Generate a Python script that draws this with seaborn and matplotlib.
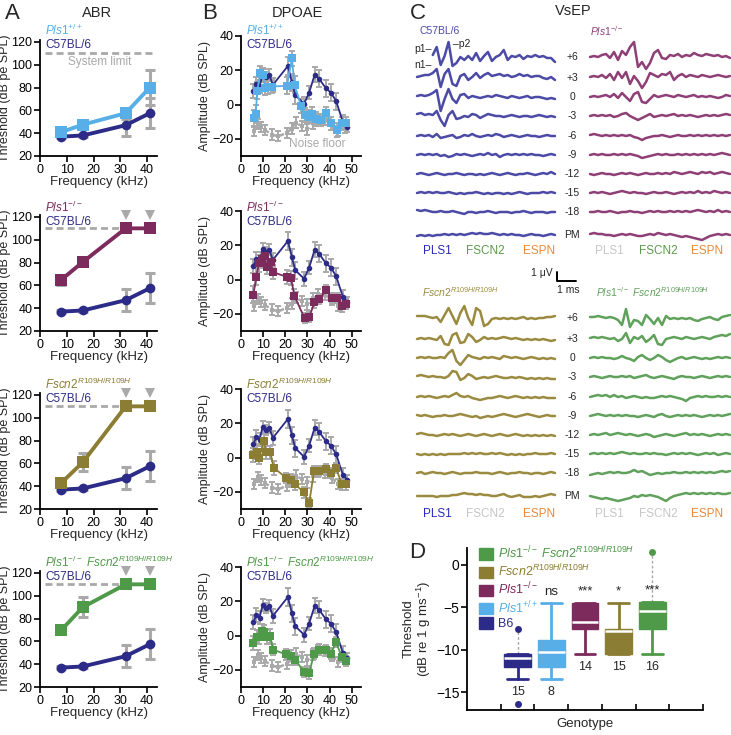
import numpy as np
import matplotlib
matplotlib.use("Agg")
import matplotlib.pyplot as plt
from matplotlib.patches import Patch
import seaborn as sns

# ---------------- data ----------------
ABR_FREQ = [8, 16, 32, 41]
ABR_B6 = [37, 38, 47, 57.5]
ABR_B6_ERR = [1.5, 1.5, 9.5, 13]
ABR_PLS1_WT = [41, 47.5, 57.5, 80]
ABR_PLS1_WT_ERR = [3, 2, 5, 15]
ABR_PLS1_KO = [65, 80.5, 110, 110]
ABR_PLS1_KO_ERR = [4.5, 3, 0, 0]
ABR_FSCN2 = [43, 61, 110, 110]
ABR_FSCN2_ERR = [3, 8, 0, 0]
ABR_DKO = [70, 90, 110, 110]
ABR_DKO_ERR = [3, 8.5, 0, 0]
SYSTEM_LIMIT = 110
SYSTEM_LIMIT_SPAN = [2, 42]

DP_B6_F = [5.6, 7.0, 8.4, 9.8, 11.3, 12.7, 14.4, 21.2, 23.0, 24.5, 28.5, 30.8, 33.3, 35.3, 38.4, 40.6, 43.0, 46.0, 48.0]
DP_B6_A = [8, 12, 10.5, 18, 16, 17.5, 11.5, 22.5, 13, 5.5, 0.5, 7, 17.5, 15, 9.5, 7, 2, -10, -13]
DP_B6_ERR = [4, 4, 4, 3.5, 3, 3, 4, 5.5, 5, 5, 4, 4, 4.5, 5, 5, 5, 5, 4, 3]

DP_WT_F = [5.8, 6.6, 7.4, 8.6, 9.8, 11.0, 12.4, 14.0, 20.8, 23.0, 24.2, 27.2, 28.9, 30.8, 32.2, 33.8, 36.0, 38.4, 40.8, 43.2, 45.5, 47.4]
DP_WT_A = [-8, -5.5, 8, 18.5, 17, 9.5, 10, 10.5, 11, 27, 11.5, -1, -6, -7, -5.5, -8.5, -9, -5, -11, -15, -11, -11]
DP_WT_ERR = [5, 5, 5, 4, 4, 4, 4, 4, 5, 4.5, 5, 4, 4, 4, 4, 4, 3.5, 3.5, 4, 4, 4, 4]

DP_KO_F = [5.6, 6.9, 8.1, 9.5, 10.7, 11.6, 13.4, 14.5, 20.6, 22.6, 24.1, 28.7, 30.9, 33.2, 35.4, 38.4, 40.9, 43.3, 45.7, 47.6]
DP_KO_A = [-8.8, 1.6, 9.4, 11.8, 13.7, 7.3, 10.2, 4.3, 1.6, 1, -9.4, -22.5, -21.6, -13.3, -11.4, -6.3, -10.8, -10.8, -15.7, -14.1]
DP_KO_ERR = [5, 5, 5, 4, 4, 4, 4, 4, 4, 4, 4, 3, 3, 3, 3, 3, 3, 3, 3, 3]

DP_FS_F = [5.6, 7.3, 8.3, 10.3, 11.4, 13.3, 14.7, 20.5, 22.7, 24.5, 28.5, 30.8, 33.0, 35.3, 38.2, 40.6, 43.0, 45.5, 47.3]
DP_FS_A = [1.4, 3.3, 0, 9.8, 3, 3, -5.9, -11.8, -12.8, -15.7, -20.3, -26.6, -7.9, -7.9, -6.9, -8.9, -5.9, -15.7, -15.7]
DP_FS_ERR = [4, 4, 4, 4, 4, 4, 4, 3, 3, 3, 3, 3, 3, 3, 3, 3, 3, 3, 3]

DP_DKO_F = [5.6, 7.1, 8.3, 9.4, 10.6, 11.8, 13.3, 14.4, 20.5, 22.7, 24.5, 28.5, 30.8, 33.0, 35.2, 38.2, 40.6, 43.0, 45.5, 47.3]
DP_DKO_A = [-4.3, -0.8, -1, 2.5, 2, -0.8, -0.4, -8.2, -11, -11.7, -14, -21.4, -22.1, -10.5, -8.2, -8.5, -10.5, -3.9, -12.4, -14.9]
DP_DKO_ERR = [4, 4, 4, 4, 4, 4, 4, 3, 3, 3, 3, 3, 3, 3, 3, 3, 3, 3, 3, 3]

DP_NF_F = [6.0, 7.5, 9.0, 11.0, 13.9, 16.9, 20.6, 22.9, 24.7, 27.4, 30.0, 32.5, 35.0, 38.0, 41.0, 44.0, 47.0]
DP_NF_A = [-15.5, -11.5, -13, -15, -17.5, -18.5, -16.5, -14, -10.5, -12.5, -14.5, -11, -8.5, -9, -12, -15.5, -13.5]
DP_NF_ERR = [3, 3, 3, 3, 3, 3, 3, 3, 3, 3, 3, 3, 3, 3, 3, 3, 3]

# VsEP traces (display units, ~9 units = 1 uV), rows: +6 ... PM
VSEP_ROWS = ["+6", "+3", "0", "-3", "-6", "-9", "-12", "-15", "-18", "PM"]
nan = np.nan
VSEP_B6 = [
    [nan, nan, nan, nan, 2, 10, -8, 1, 15, -9, -6, 0, -3, 1, -3, 4, -4, 1, 5, -4, 0, 2, 7, -3, 1, 0, 2, -2, 1, 0, 2, 0, 1, -1, -1, -5],
    [1, 2, 3, 3, 5, 9, -9, 4, 9, -6, -8, 2, 4, -2, 1, 5, 0, 3, 5, 2, 3, 4, 2, 3, 1, 2, 4, 2, 3, 1, 2, 2, 0, -1, 1, -2],
    [1, 2, 1, 2, 4, 7, -14, -2, 8, -2, -6, 2, 3, -1, 1, 0, -1, 0, 1, 0, 2, 1, 0, -1, 1, 0, -1, 0, 1, -1, 0, 0, -1, -2, -1, -2],
    [2, 3, 1, 2, 1, 5, -4, -10, 1, 5, -3, -2, 0, -1, 2, 1, -2, 0, 2, 1, 0, 0, -1, 0, 1, 0, -1, 0, 0, -1, 0, 1, 0, -1, 0, -1],
    [0, 1, 0, 1, -1, 2, -2, -1, 0, 1, -2, -1, 1, 0, 2, 0, -1, 0, 1, 0, 2, 1, -1, 0, 1, 0, -1, 0, 1, 0, 0, -1, 0, 1, 0, 0],
    [0, 1, 0, 1, 0, 1, -1, 0, -2, -1, 1, 0, 1, 0, -1, 0, 1, 0, 2, 0, 1, -2, 0, 1, 0, 1, 0, 1, 0, 1, 0, 0, -1, 0, 1, 0],
    [0, 1, 0, -1, 0, 1, 0, -1, 0, 0, 1, 0, -1, 0, 0, -1, 0, -1, 0, 1, 0, -1, 0, 1, 0, -1, 0, 0, 1, 0, -1, 0, 1, 0, 2, 0],
    [0, 1, 0, 1, 0, 1, 0, 0, 1, 0, -1, 0, -1, 0, 0, 1, 0, -1, 0, -1, 0, 0, -1, 0, -1, 0, 1, 0, -1, 0, 0, 0, 1, 0, 1, 0],
    [2, 1, 2, 1, 0, 0, 1, 0, 0, 1, 0, -1, -2, 0, 0, -1, 0, 0, 1, 0, -1, 0, 0, 0, -1, 0, 0, 1, 0, -1, 0, 0, 0, -1, 0, 0],
    [-1, 0, -1, 0, -1, 0, 0, 1, 0, 1, 0, 1, 0, 1, 2, 1, 2, 1, 1, 2, 1, 0, 1, 0, 1, 0, 0, -1, 0, 1, 0, 0, -1, 0, 1, 0],
]
VSEP_KO = [
    [0, 1, 0, 2, 3, -1, 5, -3, 6, 2, 10, 15, -10, -5, -12, -6, 4, 7, -1, -2, 2, 1, 3, 0, 2, 1, 4, 2, 1, 3, 2, 1, 2, 0, 1, -1],
    [1, 2, 1, 3, 0, 4, -2, 6, 0, 6, -6, 2, -3, -10, -4, 5, 3, 1, 4, 3, 6, -2, 2, 4, 1, 3, 2, 1, 3, 2, 1, 2, 3, 2, 1, 2],
    [0, 1, 0, 1, 2, 0, 3, -1, 4, 0, -4, 3, 5, -5, -6, -2, 2, 0, 1, 2, 1, 0, 2, 1, 0, 1, 2, 0, 1, 0, 1, 0, -1, 0, 2, 1],
    [0, 1, 0, 1, 0, 1, -1, 0, 2, 3, 0, -2, -4, -2, 0, 2, -1, 0, 1, 0, 1, 2, 0, 1, 0, 1, 0, -1, 0, 1, 0, 1, 0, 1, 2, 1],
    [1, 2, 1, 0, 1, 0, 1, 0, 1, 0, 1, -1, -2, -4, -2, -1, 0, 0, 1, 0, -1, 0, 1, 0, 0, 1, 0, 1, 0, 1, 0, 1, 0, 1, 0, 1],
    [0, 1, 0, 1, 0, 0, 1, 0, 1, 0, 1, 0, -1, -3, -2, -1, 0, 1, 0, 1, 0, 0, 1, 0, 1, 0, 1, 0, 1, 0, 1, 0, 1, 2, 1, 0],
    [0, -1, 0, 1, 0, 0, -1, 0, 1, 0, 1, 0, -1, 0, 1, 0, 0, 1, 0, 1, 0, 2, 1, 0, 1, 2, 1, 0, 2, 1, 2, 0, 1, 2, 1, 0],
    [0, 1, 0, 1, 0, -1, 0, 1, 2, 1, 0, 1, 0, 0, -1, 0, 1, 0, 0, 1, 0, -1, 0, 1, 0, 1, 0, 2, 0, 1, 0, 2, 1, 0, 1, 0],
    [0, 0, 1, 0, 0, 1, 0, -1, 0, 0, 1, 0, 0, -1, 0, 1, 0, 1, 0, 0, 1, 0, 1, 0, 1, 0, 1, 2, 1, 0, 1, 0, 2, 0, 1, 0],
    [1, 2, 1, 1, 0, 0, -1, 0, 1, 0, 1, 0, -1, -1, 0, 1, 0, 2, 1, 0, 1, 0, -1, -2, -1, -2, -3, -4, -5, -3, -1, 0, 1, 0, 1, 0],
]
VSEP_FS = [
    [2, 2, 2, 1, 0, 1, -4, 3, 10, 2, -6, 5, 12, 0, -7, 10, 7, -8, -6, -1, 0, -1, 0, -1, 0, -1, 0, 1, -1, 0, -1, 0, 0, 1, 1, 2],
    [0, 1, 0, 1, 0, -1, 3, -5, -6, 4, 6, -4, -3, 5, 2, -3, -1, 2, 0, 1, 0, 1, 2, 1, 0, 1, 0, -1, 0, -1, 0, -1, 0, -1, -2, -1],
    [0, 1, 0, 1, 0, 0, 1, 0, 5, 8, -3, -7, -2, 3, 1, 0, -1, 1, 0, 1, 0, -1, 2, 1, 0, 1, 0, -1, 0, 1, 0, -1, 0, -1, 0, -1],
    [1, 2, 1, 0, 1, 0, 0, -1, 1, 6, 5, -3, -1, 3, 1, -2, -1, 0, -1, 0, 1, 0, -1, -1, 0, -1, 0, -1, -2, -1, -2, -1, -2, -1, -2, -2],
    [0, 1, 0, 1, 0, -1, 0, 1, 0, 2, 4, 1, 0, 1, -1, -2, -3, -2, -1, -1, 0, 1, 0, -1, 0, 1, 0, -1, 0, -1, 0, -1, 0, -1, -1, -1],
    [1, 0, 1, 0, -1, 0, 0, 1, 0, 0, 1, 2, 1, 0, -1, 0, -2, -1, 0, -1, 0, 1, 2, 1, 0, -1, 0, 1, 2, 1, 0, -1, 0, 1, 0, 0],
    [1, 2, 1, 0, 0, -1, 0, 1, 0, 1, 0, -1, 0, 1, 0, -1, 0, 1, 0, -1, 0, 1, 0, -1, 0, 1, 0, -1, 0, -1, 0, -1, 0, -1, 0, -1],
    [0, -1, 0, -1, 0, -1, 0, -1, 0, 0, 0, 0, 1, 0, 1, 0, 1, 0, 0, 1, 0, 1, 0, -1, 0, -1, 0, -1, 0, 0, 1, 0, 0, 0, 1, 0],
    [0, 1, -1, 0, 1, 0, 0, -1, 0, 1, 0, -1, 0, 0, 0, 1, 0, 0, 0, -1, 0, 1, 0, -1, 0, 0, 1, 0, 0, -1, 0, 0, -1, 0, 1, 0],
    [0, 0, 0, 0, 0, -1, 0, 0, 0, 1, 1, 2, 3, 2, 2, 1, 2, 1, 1, 0, 0, 1, 2, 0, -1, 0, 1, -1, -1, -1, 0, -1, 0, 1, 2, 1],
]
VSEP_DKO = [
    [1, 1, 2, 1, 0, 1, 0, -2, -7, 9, -9, -2, -3, -7, 3, -1, -6, 0, -7, 2, -1, 0, -1, 0, -1, 0, -2, -3, -1, 0, 1, -1, -2, 1, 2, 3],
    [1, 2, 1, 2, 1, 0, 1, -2, 0, 6, -4, 2, 0, 3, -3, 0, 4, -5, -6, 0, 1, 2, 1, 0, 2, 1, 0, 1, 2, 1, 0, 2, 3, 4, 3, 5],
    [0, 1, 0, 1, 0, 0, -1, 0, 2, 0, -1, -3, 1, 3, 0, -2, 0, 3, 1, -2, -4, -2, 0, 1, -1, 0, 1, 0, -1, 0, -1, 0, 1, 0, 1, 0],
    [0, 1, 0, -1, 0, 1, 0, 0, 1, 0, 1, -1, 0, 1, 2, 0, -1, 0, 1, 0, -1, -2, 0, 1, 0, 0, -1, 0, 1, 0, -1, 0, 1, 0, 1, 0],
    [0, 1, 2, 1, 2, 0, 2, 0, 1, -1, 0, 1, 0, -1, 0, -1, -1, 0, 1, 0, 1, 0, -1, -2, -4, -1, 0, 1, 0, 1, 0, 0, 1, 0, 1, 0],
    [0, 1, 2, 1, 0, 1, 0, 1, 0, 1, 0, 0, -1, 0, 1, 0, -1, 1, 2, 0, -1, 0, 1, 0, 1, 0, 1, 0, -1, 0, 1, 0, 1, 0, 1, 2],
    [0, 1, 0, 1, 2, 0, 1, 2, 1, 0, 1, 0, -1, 0, 1, 0, -2, -1, 0, 1, 0, -1, 0, 1, 2, 0, 1, 0, 1, 0, -1, 0, 1, 0, 1, 0],
    [0, 1, 0, 1, 0, 1, 0, 1, 2, 1, 0, 1, 0, 0, 1, 0, 1, 0, 0, -1, 0, 1, 0, 1, 0, 1, 0, -1, 0, 1, 0, 1, -1, 0, 1, 0],
    [-2, -1, 0, -1, 0, 1, 0, 1, 0, 0, 1, 3, 1, 2, 0, -2, -1, 0, -1, 0, 0, 1, 0, 0, 1, 0, 1, 0, 1, 0, 1, 0, 1, 2, 1, 2],
    [0, -1, -2, -3, -2, -3, -4, -5, -4, -3, -2, 0, -1, 1, 0, 1, 0, -1, -3, -5, -2, 0, 1, 2, 3, 2, 3, 2, 3, 2, 3, 2, 3, 2, 2, 3],
]
VSEP_PROTEINS = ["PLS1", "FSCN2", "ESPN"]
VSEP_PRESENT_B6 = [True, True, True]
VSEP_PRESENT_KO = [False, True, True]
VSEP_PRESENT_FS = [True, False, True]
VSEP_PRESENT_DKO = [False, False, True]

BOX_GENOTYPES = ["B6", "Pls1+/+", "Pls1-/-", "Fscn2", "DKO"]
BOX_WHISLO = [-13.5, -13.5, -10.5, -10.5, -10.5]
BOX_Q1 = [-12.0, -12.0, -7.6, -10.5, -7.6]
BOX_MED = [-11.0, -10.3, -6.75, -7.75, -5.45]
BOX_Q3 = [-10.5, -8.85, -4.45, -7.5, -4.35]
BOX_WHISHI = [-10.5, -4.45, -4.45, -4.45, -4.35]
BOX_FLIERS = [[-7.5, -16.4], [], [], [], [1.5]]
BOX_N = [15, 8, 14, 15, 16]
BOX_SIG = ["", "ns", "***", "*", "***"]

# ---------------- style ----------------
sns.set_theme(style="ticks")
plt.rcParams["font.family"] = ["Liberation Sans", "DejaVu Sans"]
plt.rcParams["mathtext.fontset"] = "custom"
plt.rcParams["mathtext.rm"] = "Liberation Sans"
plt.rcParams["mathtext.it"] = "Liberation Sans:italic"
plt.rcParams["mathtext.default"] = "regular"

C_B6 = "#2c2b88"
C_WT = "#58aee6"
C_KO = "#7c2b5c"
C_FS = "#8b7d33"
C_DKO = "#4f9a48"
GRAY = "#a9a9a9"
TR_B6 = "#4b4aa6"
TR_KO = "#8e3f76"
TR_FS = "#9a8b40"
TR_DKO = "#60a15b"
PROT_COLORS = ["#2a2ab8", "#5b9b4b", "#e8893a"]
ABSENT = "#c6c6c6"

LBL_WT = r"$\mathit{Pls1}^{+/+}$"
LBL_KO = r"$\mathit{Pls1}^{-/-}$"
LBL_FS = r"$\mathit{Fscn2}^{\mathit{R109H/R109H}}$"
LBL_DKO = r"$\mathit{Pls1}^{-/-}\ \mathit{Fscn2}^{\mathit{R109H/R109H}}$"

W, H = 731, 735
fig = plt.figure(figsize=(W / 100, H / 100), dpi=100)


def rect(left, top, width, height):
    return [left / W, 1 - (top + height) / H, width / W, height / H]


def style_axes(ax, fs=9):
    for s in ["top", "right"]:
        ax.spines[s].set_visible(False)
    for s in ["left", "bottom"]:
        ax.spines[s].set_linewidth(1.3)
        ax.spines[s].set_color("black")
    ax.tick_params(direction="out", length=4, width=1.2, labelsize=fs,
                   colors="black", pad=1.5)


ROW_BOTTOM = [156, 331, 509, 687]
ABR_SERIES = [(ABR_PLS1_WT, ABR_PLS1_WT_ERR, C_WT, LBL_WT),
              (ABR_PLS1_KO, ABR_PLS1_KO_ERR, C_KO, LBL_KO),
              (ABR_FSCN2, ABR_FSCN2_ERR, C_FS, LBL_FS),
              (ABR_DKO, ABR_DKO_ERR, C_DKO, LBL_DKO)]
DP_SERIES = [(DP_WT_F, DP_WT_A, DP_WT_ERR, C_WT),
             (DP_KO_F, DP_KO_A, DP_KO_ERR, C_KO),
             (DP_FS_F, DP_FS_A, DP_FS_ERR, C_FS),
             (DP_DKO_F, DP_DKO_A, DP_DKO_ERR, C_DKO)]


def errbars(ax, x, y, e, lw, cap):
    x, y, e = np.asarray(x, float), np.asarray(y, float), np.asarray(e, float)
    m = e > 0
    ax.errorbar(x[m], y[m], yerr=e[m], fmt="none", ecolor=GRAY, elinewidth=lw,
                capsize=cap, capthick=lw, zorder=2)


# ---------------- A: ABR ----------------
for r, (vals, errs, col, lbl) in enumerate(ABR_SERIES):
    ax = fig.add_axes(rect(40, ROW_BOTTOM[r] - 116, 117, 116))
    ax.plot(SYSTEM_LIMIT_SPAN, [SYSTEM_LIMIT, SYSTEM_LIMIT], color=GRAY, lw=2,
            ls=(0, (2.5, 1.5)), zorder=1)
    errbars(ax, ABR_FREQ, ABR_B6, ABR_B6_ERR, 2.2, 3.5)
    errbars(ax, ABR_FREQ, vals, errs, 2.2, 3.5)
    sns.lineplot(x=ABR_FREQ, y=ABR_B6, ax=ax, color=C_B6, marker="o", markersize=7,
                 markeredgewidth=0, linewidth=2.8, zorder=3)
    sns.lineplot(x=ABR_FREQ, y=vals, ax=ax, color=col, marker="s", markersize=8,
                 markeredgewidth=0, linewidth=2.8, zorder=4)
    for f, v in zip(ABR_FREQ, vals):
        if v >= SYSTEM_LIMIT:
            ax.plot([f], [v + 12], marker="v", color=GRAY, ms=7, mew=0, clip_on=False)
    ax.set_xlim(0, 43.7)
    ax.set_ylim(20, 121.7)
    ax.set_xticks([0, 10, 20, 30, 40])
    ax.set_yticks([20, 40, 60, 80, 100, 120])
    ax.set_xlabel("Frequency (kHz)", fontsize=9.5, labelpad=0)
    ax.set_ylabel("Threshold (dB pe SPL)", fontsize=9, labelpad=0)
    style_axes(ax)

# ---------------- B: DPOAE ----------------
for r, (f, a, e, col) in enumerate(DP_SERIES):
    ax = fig.add_axes(rect(241, ROW_BOTTOM[r] - 120, 119.5, 120))
    errbars(ax, DP_NF_F, DP_NF_A, DP_NF_ERR, 1.4, 2.2)
    errbars(ax, DP_B6_F, DP_B6_A, DP_B6_ERR, 1.4, 2.2)
    errbars(ax, f, a, e, 1.4, 2.2)
    sns.lineplot(x=DP_NF_F, y=DP_NF_A, ax=ax, color=GRAY, marker="s", markersize=3.5,
                 markeredgewidth=0, linewidth=1.8, linestyle=(0, (2, 1.3)), zorder=3)
    sns.lineplot(x=DP_B6_F, y=DP_B6_A, ax=ax, color=C_B6, marker="o", markersize=4,
                 markeredgewidth=0, linewidth=1.3, zorder=4)
    sns.lineplot(x=f, y=a, ax=ax, color=col, marker="s", markersize=5.3,
                 markeredgewidth=0, linewidth=1.3, zorder=5)
    ax.set_xlim(0, 54)
    ax.set_ylim(-30, 40)
    ax.set_xticks([0, 10, 20, 30, 40, 50])
    ax.set_yticks([-20, 0, 20, 40])
    ax.set_xlabel("Frequency (kHz)", fontsize=9.5, labelpad=0)
    ax.set_ylabel("Amplitude (dB SPL)", fontsize=9, labelpad=1)
    style_axes(ax)

# ---------------- D: boxplot ----------------
axd = fig.add_axes(rect(467, 548, 236, 162))
box_colors = [C_B6, C_WT, C_KO, C_FS, C_DKO]
stats = [dict(whislo=lo, q1=q1, med=md, q3=q3, whishi=hi, fliers=[])
         for lo, q1, md, q3, hi in zip(BOX_WHISLO, BOX_Q1, BOX_MED, BOX_Q3, BOX_WHISHI)]
bp = axd.bxp(stats, positions=range(len(stats)), widths=0.8, patch_artist=True,
             showfliers=False, capwidths=0.62)
for i, c in enumerate(box_colors):
    bp["boxes"][i].set(facecolor=c, edgecolor=c, linewidth=1)
    bp["medians"][i].set(color="white", linewidth=1.8)
    for w in bp["whiskers"][2 * i:2 * i + 2]:
        w.set(color=c, linewidth=2)
    for cp in bp["caps"][2 * i:2 * i + 2]:
        cp.set(color=c, linewidth=2)
for i, (fl, c) in enumerate(zip(BOX_FLIERS, box_colors)):
    for v in fl:
        if v > BOX_WHISHI[i]:
            axd.plot([i, i], [BOX_WHISHI[i], v], color=GRAY, lw=1, ls=(0, (2, 1.5)), zorder=1)
        axd.plot([i], [v], marker="o", color=c, ms=5, mew=0, clip_on=False)
for i in range(len(BOX_N)):
    axd.text(i, BOX_WHISLO[i] - 1.5, str(BOX_N[i]), ha="center", va="center", fontsize=9)
    if BOX_SIG[i]:
        axd.text(i, BOX_WHISHI[i] + 1.3, BOX_SIG[i], ha="center", va="center", fontsize=9.5)
axd.set_xlim(-1.5, 5.5)
axd.set_ylim(-17.1, 2)
axd.set_yticks([0, -5, -10, -15])
axd.set_xticks(np.arange(-0.5, 6, 1.0))
axd.set_xticklabels([])
style_axes(axd, fs=10)
axd.tick_params(axis="x", direction="in", length=4)
axd.set_xlabel("Genotype", fontsize=9.5, labelpad=4)
axd.set_ylabel("Threshold\n" + r"(dB re 1 g ms$^{-1}$)", fontsize=9.5, labelpad=2,
               linespacing=1.0)
handles = [Patch(facecolor=c, edgecolor=c) for c in [C_DKO, C_FS, C_KO, C_WT, C_B6]]
axd.legend(handles, [LBL_DKO, LBL_FS, LBL_KO, LBL_WT, "B6"], loc="upper left",
           bbox_to_anchor=(0.03, 1.05), frameon=False, fontsize=9,
           handlelength=1.1, handleheight=1.05, handletextpad=0.4,
           labelspacing=0.12, borderaxespad=0,
           labelcolor=[C_DKO, C_FS, C_KO, C_WT, C_B6])

# ---------------- overlay: C traces and text ----------------
ov = fig.add_axes([0, 0, 1, 1])
ov.set_xlim(0, W)
ov.set_ylim(H, 0)
ov.axis("off")

ROW_Y = [57, 78, 97, 116, 136, 155, 174, 193, 212, 235]
GROUP_DY = [0, 261]
COL_X = [(417, 555), (590, 730)]
VSEP_PANELS = [(VSEP_B6, TR_B6, 0, 0, VSEP_PRESENT_B6),
               (VSEP_KO, TR_KO, 1, 0, VSEP_PRESENT_KO),
               (VSEP_FS, TR_FS, 0, 1, VSEP_PRESENT_FS),
               (VSEP_DKO, TR_DKO, 1, 1, VSEP_PRESENT_DKO)]
PROT_X = [[437, 485, 539], [609, 658, 707]]
PROT_Y = [251, 514]
for traces, col, ci, gi, present in VSEP_PANELS:
    x0, x1 = COL_X[ci]
    for ri, tr in enumerate(traces):
        tr = np.asarray(tr, float)
        xs = np.linspace(x0, x1, len(tr))
        ov.plot(xs, ROW_Y[ri] + GROUP_DY[gi] - tr, color=col, lw=1.8,
                solid_joinstyle="round")
    for k, p in enumerate(VSEP_PROTEINS):
        ov.text(PROT_X[ci][k], PROT_Y[gi], p, ha="center", va="center", fontsize=8.5,
                color=PROT_COLORS[k] if present[k] else ABSENT)
for gi in range(2):
    for ri, lab in enumerate(VSEP_ROWS):
        ov.text(572, ROW_Y[ri] + GROUP_DY[gi], lab, ha="center", va="center", fontsize=7.5)

ov.text(440, 31, "C57BL/6", ha="center", va="center", fontsize=7.5, color=TR_B6)
ov.text(607, 31, LBL_KO, ha="center", va="center", fontsize=7.5, color=TR_KO)
ov.text(460, 292, LBL_FS, ha="center", va="center", fontsize=7.5, color=TR_FS)
ov.text(653, 292, LBL_DKO, ha="center", va="center", fontsize=7.5, color=TR_DKO)
ov.text(423, 49, "p1–", ha="center", va="center", fontsize=7.5)
ov.text(423, 65, "n1–", ha="center", va="center", fontsize=7.5)
ov.text(462, 44, "–p2", ha="center", va="center", fontsize=7.5)
# scale bar
ov.plot([557, 557, 576], [272, 281, 281], color="black", lw=1.4)
ov.text(553, 273, "1 μV", ha="right", va="center", fontsize=7.5)
ov.text(568, 290, "1 ms", ha="center", va="center", fontsize=7.5)

# panel letters / titles
for x, y, s in [(12, 13, "A"), (210, 13, "B"), (418, 13, "C"), (417, 552, "D")]:
    ov.text(x, y, s, ha="center", va="center", fontsize=16)
for x, y, s in [(97, 13, "ABR"), (297, 13, "DPOAE"), (573, 11, "VsEP")]:
    ov.text(x, y, s, ha="center", va="center", fontsize=10.5)

# genotype labels in A and B
GENO_Y = [30, 207, 384, 562]
B6_Y = [45, 222, 399, 577]
for r, (_, _, col, lbl) in enumerate(ABR_SERIES):
    for x in (45, 246):
        ov.text(x, GENO_Y[r], lbl, ha="left", va="center", fontsize=8.5, color=col)
        ov.text(x, B6_Y[r], "C57BL/6", ha="left", va="center", fontsize=8.5, color=C_B6)
ov.text(100, 62, "System limit", ha="center", va="center", fontsize=8.5, color=GRAY)
ov.text(317, 144, "Noise floor", ha="center", va="center", fontsize=8.5, color=GRAY)

fig.savefig("out.png", dpi=100)
